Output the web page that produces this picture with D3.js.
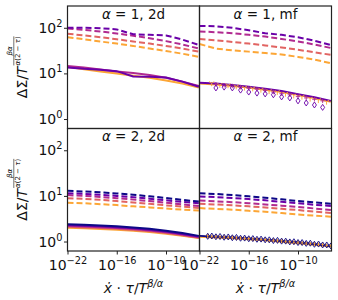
<!DOCTYPE html>
<html>
<head>
<meta charset="utf-8">
<title></title>
<style>
  body { margin: 0; background: #fff; }
  svg { display: block; font-family: "DejaVu Sans", sans-serif; }
</style>
</head>
<body>
<svg></svg>
<script src="https://d3js.org/d3.v7.min.js"></script>
<script>
// init vars
var _width = 338
var _height = 300
var _svg = d3.select("svg").attr("width", _width).attr("height", _height)

// colours (plasma)
const cNavy = "#0d0887", cPurple = "#6a00a8", cMagenta = "#b12a90", cSalmon = "#e16462", cOrange = "#fca636"

// x sample points
const xGrid = [1e-22, 1e-20, 1e-18, 1e-16, 1e-14, 1e-12, 1e-10, 1e-8, 1e-6]
const xTicks = [1e-22, 1e-16, 1e-10]
const xTickExp = ["\u221222", "\u221216", "\u221210"]
const yTicks = [1, 10, 100]
const yTickExp = ["0", "1", "2"]

// alpha = 1, 2d
const a1d_purple  = [100, 100, 98, 92, 72, 70, 68, 55, 42]
const a1d_magenta = [96, 90, 83, 75, 67, 59, 51, 43, 35]
const a1d_salmon  = [74, 68, 62, 56, 50, 45, 40, 35, 30]
const a1d_orange  = [62, 56, 50, 45, 40, 35, 31, 27, 23]
const a1s_purple  = [13.5, 12.6, 12.0, 11.2, 8.6, 8.4, 8.1, 6.6, 5.1]
const a1s_magenta = [14.6, 13.5, 12.2, 11.0, 10.2, 9.2, 8.0, 6.6, 5.3]
const a1s_orange  = [14.0, 12.4, 11.0, 9.9, 8.9, 8.0, 7.0, 6.0, 4.9]

// alpha = 1, mf
const b1d_purple  = [110, 108, 100, 88, 76, 70, 62, 52, 42]
const b1d_magenta = [83, 80, 76, 70, 64, 57, 50, 43, 36]
const b1d_salmon  = [57, 53, 49, 45, 41, 37, 33, 29, 25.5]
const b1d_orange  = [44, 35, 32, 30, 28, 26, 23, 20, 16.8]
const b1s_purple  = [6.2, 6.0, 5.6, 5.1, 4.6, 4.1, 3.5, 3.0, 2.5]
const b1s_orange  = [6.0, 5.7, 5.3, 4.9, 4.4, 3.9, 3.4, 2.9, 2.4]
const b1m_x       = [1e-20, 1e-19, 1e-18, 1e-17, 1e-16, 1e-15, 1e-14, 1e-13, 1e-12, 1e-11, 1e-10, 1e-9, 1e-8, 1e-7]
const b1m_diamond = [4.8, 5.0, 4.8, 4.3, 3.9, 3.7, 3.55, 3.4, 3.05, 2.9, 2.5, 2.25, 2.03, 1.8]
const b1m_plus    = [5.8, 5.5, 5.3, 5.0, 4.7, 4.5, 4.2, 3.9, 3.6, 3.4, 3.1, 2.9, 2.7, 2.5]
const b1m_tx      = [3e-21, 3e-20, 3e-19, 3e-18, 3e-17, 3e-16, 3e-15, 3e-14, 3e-13, 3e-12, 3e-11, 3e-10, 3e-9, 3e-8, 3e-7]
const b1m_tri     = [6.1, 5.6, 5.5, 5.2, 4.9, 4.7, 4.4, 4.1, 3.9, 3.6, 3.3, 3.1, 2.8, 2.6, 2.4]

// alpha = 2, 2d
const a2d_navy    = [12.9, 12.5, 12.0, 11.3, 10.6, 9.8, 9.0, 8.2, 7.5]
const a2d_purple  = [11.4, 11.1, 10.6, 10.0, 9.4, 8.7, 8.0, 7.4, 6.9]
const a2d_magenta = [10.4, 10.0, 9.5, 8.9, 8.3, 7.7, 7.1, 6.5, 6.0]
const a2d_salmon  = [8.9, 8.6, 8.2, 7.7, 7.2, 6.7, 6.2, 5.8, 5.4]
const a2d_orange  = [7.1, 6.9, 6.6, 6.3, 5.9, 5.6, 5.3, 5.0, 4.8]
const a2s_navy    = [2.4, 2.32, 2.24, 2.15, 2.04, 1.9, 1.73, 1.53, 1.33]
const a2s_purple  = [2.3, 2.23, 2.15, 2.06, 1.95, 1.82, 1.66, 1.47, 1.28]
const a2s_magenta = [2.2, 2.13, 2.06, 1.97, 1.87, 1.75, 1.6, 1.42, 1.24]
const a2s_salmon  = [2.1, 2.04, 1.98, 1.9, 1.8, 1.68, 1.54, 1.37, 1.21]
const a2s_orange  = [2.0, 1.95, 1.89, 1.82, 1.73, 1.62, 1.48, 1.33, 1.19]

// alpha = 2, mf
const b2d_navy    = [11.4, 11.0, 10.4, 9.8, 9.1, 8.4, 7.7, 7.2, 6.7]
const b2d_purple  = [9.7, 9.4, 9.0, 8.5, 8.0, 7.4, 6.9, 6.4, 6.0]
const b2d_magenta = [7.9, 7.6, 7.3, 6.9, 6.5, 6.1, 5.7, 5.3, 4.9]
const b2d_salmon  = [6.7, 6.5, 6.2, 5.9, 5.6, 5.2, 4.9, 4.5, 4.2]
const b2d_orange  = [5.4, 5.2, 5.0, 4.7, 4.5, 4.2, 3.9, 3.7, 3.5]
const b2s_orange  = [1.28, 1.23, 1.18, 1.12, 1.06, 0.99, 0.92, 0.85, 0.78]
const b2s_navy    = [1.33, 1.28, 1.22, 1.16, 1.1, 1.03, 0.96, 0.88, 0.8]
const b2m_x = [1e-21, 3.16e-21, 1e-20, 3.16e-20, 1e-19, 3.16e-19, 1e-18, 3.16e-18, 1e-17, 3.16e-17,
               1e-16, 3.16e-16, 1e-15, 3.16e-15, 1e-14, 3.16e-14, 1e-13, 3.16e-13, 1e-12, 3.16e-12,
               1e-11, 3.16e-11, 1e-10, 3.16e-10, 1e-9, 3.16e-9, 1e-8, 3.16e-8, 1e-7, 3.16e-7, 1e-6]
const b2m_diamond = [1.30, 1.32, 1.27, 1.29, 1.24, 1.26, 1.21, 1.23, 1.18, 1.19, 1.15, 1.16, 1.12, 1.13, 1.09, 1.09,
                     1.05, 1.06, 1.02, 1.02, 0.98, 0.99, 0.95, 0.95, 0.91, 0.92, 0.87, 0.88, 0.84, 0.84, 0.80]
const b2m_plus    = [1.35, 1.28, 1.31, 1.25, 1.27, 1.22, 1.24, 1.19, 1.20, 1.16, 1.17, 1.13, 1.14, 1.10, 1.11, 1.06,
                     1.07, 1.03, 1.04, 0.99, 1.00, 0.96, 0.97, 0.93, 0.93, 0.89, 0.90, 0.86, 0.86, 0.82, 0.82]

// layout
const colX = [67.5, 199.5], panelW = 132
const rowY = [6, 128.5], panelH = 122.5

const diamondPath = "M0,-3L2,0L0,3L-2,0Z"
const plusPath = "M-2.2,0H2.2M0,-2.2V2.2"
const triPath = "M0,0V3M0,0L-2.6,-1.5M0,0L2.6,-1.5"

const panels = [
  { col: 0, row: 0, alpha: "1", kind: "2d",
    dashed: [[a1d_orange, cOrange], [a1d_salmon, cSalmon], [a1d_magenta, cMagenta], [a1d_purple, cPurple]],
    solid: [[a1s_orange, cOrange], [a1s_magenta, cMagenta], [a1s_purple, cPurple]], marks: [] },
  { col: 1, row: 0, alpha: "1", kind: "mf",
    dashed: [[b1d_orange, cOrange], [b1d_salmon, cSalmon], [b1d_magenta, cMagenta], [b1d_purple, cPurple]],
    solid: [[b1s_orange, cOrange], [b1s_purple, cPurple]],
    marks: [[b1m_tx, b1m_tri, cOrange, triPath], [b1m_x, b1m_plus, cMagenta, plusPath], [b1m_x, b1m_diamond, cPurple, diamondPath]] },
  { col: 0, row: 1, alpha: "2", kind: "2d",
    dashed: [[a2d_orange, cOrange], [a2d_salmon, cSalmon], [a2d_magenta, cMagenta], [a2d_purple, cPurple], [a2d_navy, cNavy]],
    solid: [[a2s_orange, cOrange], [a2s_salmon, cSalmon], [a2s_magenta, cMagenta], [a2s_purple, cPurple], [a2s_navy, cNavy]], marks: [] },
  { col: 1, row: 1, alpha: "2", kind: "mf",
    dashed: [[b2d_orange, cOrange], [b2d_salmon, cSalmon], [b2d_magenta, cMagenta], [b2d_purple, cPurple], [b2d_navy, cNavy]],
    solid: [[b2s_orange, cOrange], [b2s_navy, cNavy]],
    marks: [[b2m_x, b2m_plus, cOrange, plusPath], [b2m_x, b2m_diamond, cNavy, diamondPath]] }
]

panels.forEach(function (p, i) {
  var x0 = colX[p.col], y0 = rowY[p.row]
  var x = d3.scaleLog().domain([1e-22, 1.2e-6]).range([0, panelW])
  var y = d3.scaleLog().domain([0.62, 300]).range([panelH, 0])
  var g = _svg.append("g").attr("transform", "translate(" + x0 + "," + y0 + ")")

  g.append("clipPath").attr("id", "clip" + i)
    .append("rect").attr("width", panelW).attr("height", panelH)
  var plot = g.append("g").attr("clip-path", "url(#clip" + i + ")")

  var line = d3.line().x(function (d, k) { return x(xGrid[k]) }).y(function (d) { return y(d) })

  p.dashed.forEach(function (s) {
    plot.append("path").attr("d", line(s[0])).attr("fill", "none")
      .attr("stroke", s[1]).attr("stroke-width", 2).attr("stroke-dasharray", "6,3")
  })
  p.solid.forEach(function (s) {
    plot.append("path").attr("d", line(s[0])).attr("fill", "none")
      .attr("stroke", s[1]).attr("stroke-width", 2)
  })
  p.marks.forEach(function (m) {
    plot.selectAll(null).data(m[1]).join("path")
      .attr("transform", function (d, k) { return "translate(" + x(m[0][k]) + "," + y(d) + ")" })
      .attr("d", m[3]).attr("fill", "none").attr("stroke", m[2]).attr("stroke-width", 0.9)
  })

  // frame
  g.append("rect").attr("width", panelW).attr("height", panelH)
    .attr("fill", "none").attr("stroke", "#222").attr("stroke-width", 1.2)

  // title
  var t = g.append("text").attr("x", panelW / 2).attr("y", p.row === 0 ? 12.5 : 12)
    .attr("text-anchor", "middle").attr("font-size", 13.5).attr("fill", "#111")
  t.append("tspan").attr("font-style", "italic").text("\u03b1")
  t.append("tspan").text(" = " + " " + p.alpha + ", " + p.kind)

  // y axis (left column)
  if (p.col === 0) {
    var ya = g.append("g").call(d3.axisLeft(y).tickValues(yTicks).tickSize(3.5).tickPadding(1.5))
    ya.select(".domain").remove()
    ya.selectAll(".tick line").attr("stroke", "#222")
    ya.selectAll(".tick text").text(null).attr("font-size", 14).attr("fill", "#111")
      .attr("font-family", "DejaVu Sans")
      .each(function (d, k) {
        var s = d3.select(this)
        s.append("tspan").text("10")
        s.append("tspan").attr("dy", -6).attr("font-size", 9.8).text(yTickExp[k])
      })
  }
  // x axis (bottom row)
  if (p.row === 1) {
    var xa = g.append("g").attr("transform", "translate(0," + panelH + ")")
      .call(d3.axisBottom(x).tickValues(xTicks).tickSize(3.5).tickPadding(5.5))
    xa.select(".domain").remove()
    xa.selectAll(".tick line").attr("stroke", "#222")
    xa.selectAll(".tick text").text(null).attr("font-size", 14).attr("fill", "#111")
      .attr("font-family", "DejaVu Sans")
      .each(function (d, k) {
        var s = d3.select(this)
        s.append("tspan").text("10")
        s.append("tspan").attr("dy", -6).attr("font-size", 9.8).text(xTickExp[k])
      })
  }
})

// y labels
function drawYLabel(cy) {
  var outer = _svg.append("g").attr("transform", "translate(27," + cy + ") rotate(-90)")
  var g = outer.append("g")
  var main = g.append("text").attr("font-size", 14).attr("fill", "#111")
  main.append("tspan").text("\u0394\u03a3/")
  main.append("tspan").attr("font-style", "italic").text("T")
  var w1 = main.node().getComputedTextLength()
  var num = g.append("text").attr("font-size", 7).attr("font-style", "italic").attr("fill", "#111")
    .attr("text-anchor", "middle").attr("y", -15).text("\u03b2\u03b1")
  var den = g.append("text").attr("font-size", 7).attr("fill", "#111")
    .attr("text-anchor", "middle").attr("y", -7)
  den.append("tspan").attr("font-style", "italic").text("\u03b1")
  den.append("tspan").text("(2 \u2212 ")
  den.append("tspan").attr("font-style", "italic").text("\u03c4")
  den.append("tspan").text(")")
  var w2 = Math.max(num.node().getComputedTextLength(), den.node().getComputedTextLength())
  var fx = w1 + 1 + w2 / 2
  num.attr("x", fx)
  den.attr("x", fx)
  g.append("line").attr("x1", w1 + 1).attr("x2", w1 + 1 + w2).attr("y1", -13.2).attr("y2", -13.2)
    .attr("stroke", "#111").attr("stroke-width", 0.6)
  g.attr("transform", "translate(" + (-(w1 + 1 + w2) / 2) + ",0)")
}
drawYLabel(rowY[0] + panelH / 2)
drawYLabel(rowY[1] + panelH / 2)

// x labels
colX.forEach(function (cx) {
  var t = _svg.append("text").attr("x", cx + panelW / 2).attr("y", 293)
    .attr("text-anchor", "middle").attr("font-size", 14).attr("fill", "#111")
  t.append("tspan").attr("font-style", "italic").text("x\u0307")
  t.append("tspan").text(" \u00b7 ")
  t.append("tspan").attr("font-style", "italic").text("\u03c4")
  t.append("tspan").text("/")
  t.append("tspan").attr("font-style", "italic").text("T")
  t.append("tspan").attr("dy", -6).attr("font-size", 9.8).attr("font-style", "italic").text("\u03b2/\u03b1")
})
</script>
</body>
</html>
